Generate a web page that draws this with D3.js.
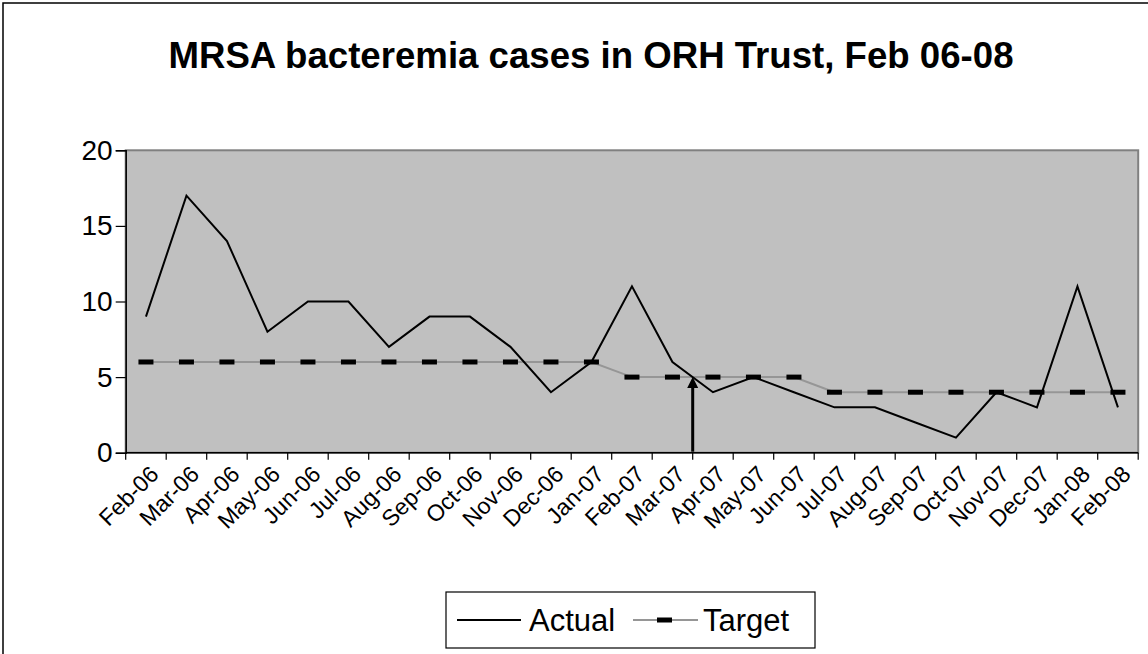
<!DOCTYPE html>
<html>
<head>
<meta charset="utf-8">
<script src="https://cdn.jsdelivr.net/npm/d3@7"></script>
<style>
  body { margin: 0; background: #fff; }
  svg { display: block; font-family: "Liberation Sans", Arial, sans-serif; }
</style>
</head>
<body>
<svg id="chart" width="1148" height="654"></svg>
<script>
// months, Feb 06 .. Feb 08
var months = ["Feb-06","Mar-06","Apr-06","May-06","Jun-06","Jul-06","Aug-06","Sep-06","Oct-06","Nov-06","Dec-06","Jan-07",
              "Feb-07","Mar-07","Apr-07","May-07","Jun-07","Jul-07","Aug-07","Sep-07","Oct-07","Nov-07","Dec-07","Jan-08","Feb-08"];
var actual = [9,17,14,8,10,10,7,9,9,7,4,6,11,6,4,5,4,3,3,2,1,4,3,11,3];
var target = [6,6,6,6,6,6,6,6,6,6,6,6,5,5,5,5,5,4,4,4,4,4,4,4,4];
var yTicks = [0,5,10,15,20];
// arrow marks the start of Apr-07 at the target level
var arrowMonth = "Apr-07";
var arrowValue = 5;

var svg = d3.select("#chart");
var plot = {left: 125.7, right: 1138.2, top: 150.3, bottom: 452.7};

var x = d3.scaleBand().domain(months).range([plot.left, plot.right]).padding(0);
var y = d3.scaleLinear().domain([0, 20]).range([plot.bottom, plot.top]);

// outer chart border (right / bottom cut off)
svg.append("rect")
  .attr("x", 3).attr("y", 3).attr("width", 1160).attr("height", 670)
  .attr("fill", "none").attr("stroke", "#000").attr("stroke-width", 1.5);

/*  TITLE   */
svg.append("text")
  .attr("x", 591).attr("y", 68)
  .attr("text-anchor", "middle")
  .attr("font-size", 37).attr("font-weight", "bold")
  .attr("textLength", 845).attr("lengthAdjust", "spacingAndGlyphs")
  .text("MRSA bacteremia cases in ORH Trust, Feb 06-08");

/*  PLOT AREA   */
svg.append("rect")
  .attr("x", plot.left).attr("y", plot.top)
  .attr("width", plot.right - plot.left).attr("height", plot.bottom - plot.top)
  .attr("fill", "#c0c0c0").attr("stroke", "#808080").attr("stroke-width", 2);

// y axis
var yAxis = svg.append("g")
  .attr("transform", "translate(" + plot.left + ",0)")
  .call(d3.axisLeft(y).tickValues(yTicks).tickSize(10).tickPadding(3));
yAxis.select(".domain").attr("stroke", "#000").attr("stroke-width", 1.5);
yAxis.selectAll(".tick line").attr("stroke", "#000").attr("stroke-width", 1.2);
yAxis.selectAll("text").attr("font-size", 28).attr("fill", "#000").attr("font-family", "Liberation Sans, Arial, sans-serif");

// x axis: ticks on band edges
var xAxis = svg.append("g").attr("transform", "translate(0," + plot.bottom + ")");
xAxis.append("line")
  .attr("x1", plot.left).attr("x2", plot.right)
  .attr("stroke", "#000").attr("stroke-width", 1.5);
var edges = months.map(function(m) { return x(m); }).concat([x(months[months.length - 1]) + x.bandwidth()]);
xAxis.selectAll("line.tk").data(edges).enter().append("line")
  .attr("class", "tk")
  .attr("x1", function(d) { return d; }).attr("x2", function(d) { return d; })
  .attr("y1", 0).attr("y2", 7)
  .attr("stroke", "#000").attr("stroke-width", 1.2);
xAxis.selectAll("text").data(months).enter().append("text")
  .attr("transform", function(d) {
    return "translate(" + (x(d) + x.bandwidth() / 2 + 14) + ",23) rotate(-45)";
  })
  .attr("text-anchor", "end")
  .attr("font-size", 23)
  .text(function(d) { return d; });

/*  SERIES   */
var cx = function(d, i) { return x(months[i]) + x.bandwidth() / 2; };

var line = d3.line().x(cx).y(function(d) { return y(d); });

svg.append("path").datum(target)
  .attr("d", line)
  .attr("fill", "none").attr("stroke", "#969696").attr("stroke-width", 2);

svg.selectAll("rect.dash").data(target).enter().append("rect")
  .attr("class", "dash")
  .attr("x", function(d, i) { return cx(d, i) - 7.5; })
  .attr("y", function(d) { return y(d) - 2.5; })
  .attr("width", 15).attr("height", 5)
  .attr("fill", "#000");

svg.append("path").datum(actual)
  .attr("d", line)
  .attr("fill", "none").attr("stroke", "#000").attr("stroke-width", 2)
  .attr("stroke-linejoin", "miter");

// arrow
var ax = x(arrowMonth), ay = y(arrowValue);
svg.append("line")
  .attr("x1", ax).attr("x2", ax)
  .attr("y1", plot.bottom - 1).attr("y2", ay + 10)
  .attr("stroke", "#000").attr("stroke-width", 3);
svg.append("path")
  .attr("d", "M" + ax + "," + ay + "L" + (ax - 5.5) + "," + (ay + 11) + "L" + (ax + 5.5) + "," + (ay + 11) + "Z")
  .attr("fill", "#000");

/*  LEGEND   */
var legend = svg.append("g");
legend.append("rect")
  .attr("x", 446).attr("y", 592).attr("width", 369).attr("height", 56)
  .attr("fill", "#fff").attr("stroke", "#000").attr("stroke-width", 1.2);
legend.append("line")
  .attr("x1", 457).attr("x2", 521).attr("y1", 620).attr("y2", 620)
  .attr("stroke", "#000").attr("stroke-width", 2);
legend.append("text")
  .attr("x", 529).attr("y", 631)
  .attr("font-size", 31)
  .text("Actual");
legend.append("line")
  .attr("x1", 633).attr("x2", 698).attr("y1", 620).attr("y2", 620)
  .attr("stroke", "#969696").attr("stroke-width", 2);
legend.append("rect")
  .attr("x", 657).attr("y", 617.5).attr("width", 15).attr("height", 5)
  .attr("fill", "#000");
legend.append("text")
  .attr("x", 703).attr("y", 631)
  .attr("font-size", 31)
  .text("Target");
</script>
</body>
</html>
